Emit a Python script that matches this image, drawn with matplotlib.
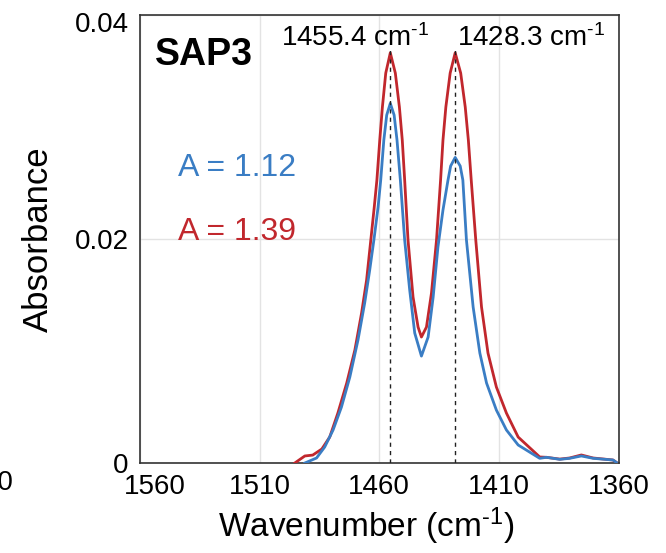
import matplotlib.pyplot as plt
import matplotlib.transforms as mtransforms

plt.rcParams['font.family'] = ['Liberation Sans', 'DejaVu Sans']
plt.rcParams['mathtext.fontset'] = 'custom'
plt.rcParams['mathtext.rm'] = 'Liberation Sans'
plt.rcParams['mathtext.default'] = 'regular'

# spectra (wavenumber in cm-1, absorbance)
wn_139 = [1495.3, 1491.1, 1487.8, 1484.0, 1480.7, 1477.3, 1473.6, 1470.2, 1467.4,
          1465.3, 1463.5, 1462.1, 1461.0, 1459.8, 1458.7, 1457.3, 1455.4, 1453.3,
          1451.6, 1450.4, 1449.4, 1448.0, 1445.9, 1443.8, 1442.4, 1440.3, 1438.2,
          1436.1, 1434.4, 1433.4, 1432.2, 1430.4, 1428.3, 1426.0, 1424.1, 1422.8,
          1421.6, 1419.7, 1417.3, 1414.6, 1411.1, 1406.9, 1402.0, 1393.0, 1390.2,
          1384.6, 1380.5, 1375.6, 1370.7, 1362.4, 1361.0]
abs_139 = [0.0, 0.00063, 0.00071, 0.00125, 0.00232, 0.00446, 0.00714, 0.01009, 0.01339,
           0.01634, 0.02000, 0.02286, 0.02527, 0.02884, 0.03179, 0.03482, 0.03663, 0.03482,
           0.03179, 0.02884, 0.02527, 0.01991, 0.01482, 0.01214, 0.01125, 0.01214, 0.01518,
           0.01991, 0.02527, 0.02884, 0.03179, 0.03482, 0.03663, 0.03482, 0.03179, 0.02884,
           0.02527, 0.01991, 0.01393, 0.00982, 0.00679, 0.00446, 0.00232, 0.00054, 0.00051,
           0.00035, 0.00045, 0.00072, 0.00045, 0.00027, 0.00006]

wn_112 = [1491.1, 1486.2, 1482.8, 1479.3, 1475.8, 1472.3, 1468.9, 1466.1, 1464.0,
          1462.2, 1460.5, 1459.4, 1458.1, 1456.9, 1455.4, 1453.8, 1452.6, 1451.2,
          1449.4, 1447.3, 1445.2, 1442.4, 1439.6, 1437.5, 1435.5, 1433.4, 1431.3,
          1430.2, 1428.3, 1426.2, 1425.1, 1423.6, 1420.8, 1418.0, 1415.2, 1411.1,
          1406.9, 1402.0, 1393.0, 1390.2, 1384.6, 1380.5, 1375.6, 1370.7, 1362.4,
          1361.0]
abs_112 = [0.0, 0.00045, 0.00143, 0.00295, 0.00500, 0.00768, 0.01098, 0.01429, 0.01723,
           0.02000, 0.02286, 0.02527, 0.02884, 0.03107, 0.03212, 0.03107, 0.02884, 0.02527,
           0.01991, 0.01545, 0.01161, 0.00955, 0.01125, 0.01482, 0.01929, 0.02259, 0.02527,
           0.02652, 0.02729, 0.02652, 0.02527, 0.01991, 0.01393, 0.00982, 0.00714, 0.00473,
           0.00295, 0.00161, 0.00042, 0.00051, 0.00033, 0.00042, 0.00063, 0.00042, 0.00027,
           0.00006]

peaks = [1455.4, 1428.3]
peak_labels = ['1455.4 cm$^{\u2010 1}$', '1428.3 cm$^{\u2010 1}$']
xticks = [1560, 1510, 1460, 1410, 1360]
yticks = [0, 0.02, 0.04]
ytick_labels = ['0', '0.02', '0.04']

blue = '#3a7dc4'
red = '#c1272d'

fig = plt.figure(figsize=(6.66, 5.53), dpi=100)
ax = fig.add_axes([0.210, 0.1627, 0.719, 0.810])

ax.plot(wn_139, abs_139, color=red, lw=2.0, zorder=3, solid_joinstyle='round')
ax.plot(wn_112, abs_112, color=blue, lw=2.0, zorder=4, solid_joinstyle='round')
ax.vlines(peaks, 0, 0.0370, colors='#222222', linestyles=(0, (3, 3)), lw=1.0, zorder=5)

ax.set_xlim(1560, 1360)
ax.set_ylim(0, 0.04)
ax.set_xticks(xticks)
ax.set_xticklabels([str(t) for t in xticks])
ax.set_yticks(yticks)
ax.set_yticklabels(ytick_labels)
ax.tick_params(length=0, labelsize=20, pad=8)
ax.grid(True, color='#e3e3e3', lw=1.0)
ax.set_axisbelow(True)
for s in ax.spines.values():
    s.set_color('#333333')
    s.set_linewidth(1.2)

# small label nudges as in the original
lab = ax.get_xticklabels()[0]
lab.set_transform(lab.get_transform() + mtransforms.ScaledTranslation(15 / 100, 0, fig.dpi_scale_trans))
lab = ax.get_yticklabels()[-1]
lab.set_transform(lab.get_transform() + mtransforms.ScaledTranslation(0, -7 / 100, fig.dpi_scale_trans))

ax.set_xlabel('Wavenumber (cm$^{\u2010 1}$)', fontsize=24)
ax.xaxis.set_label_coords(0.472, -0.095)
ax.set_ylabel('Absorbance', fontsize=25, labelpad=14)

fig.text(155 / 666, 1 - 55 / 553, 'SAP3', fontsize=27, fontweight='bold', va='center', ha='left')
fig.text(281 / 666, 1 - 38 / 553, peak_labels[0], fontsize=20, va='center', ha='left')
fig.text(457 / 666, 1 - 38 / 553, peak_labels[1], fontsize=20, va='center', ha='left')
fig.text(178 / 666, 1 - 168 / 553, 'A = 1.12', fontsize=23, color=blue, va='center', ha='left')
fig.text(178 / 666, 1 - 232 / 553, 'A = 1.39', fontsize=23, color=red, va='center', ha='left')

# clipped tick label remnant at the left edge
fig.text(14 / 666, 1 - 483 / 553, '1610', fontsize=20, va='center', ha='right')

fig.savefig('out.png', dpi=100)
